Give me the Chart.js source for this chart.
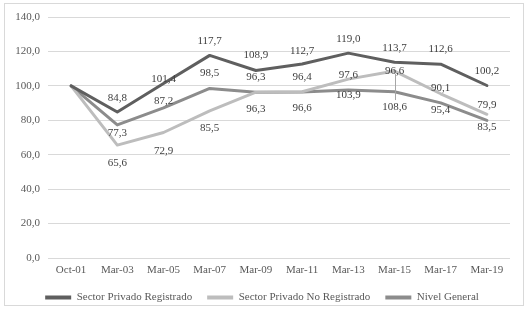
<!DOCTYPE html>
<html>
<head>
<meta charset="utf-8">
<script src="https://cdn.jsdelivr.net/npm/chart.js@4.4.0/dist/chart.umd.min.js"></script>
<style>
  html, body { margin: 0; padding: 0; background: #fff; }
  canvas { display: block; }
</style>
</head>
<body>
<canvas id="chart" width="529" height="319"></canvas>
<script>
const categories = ['Oct-01', 'Mar-03', 'Mar-05', 'Mar-07', 'Mar-09', 'Mar-11', 'Mar-13', 'Mar-15', 'Mar-17', 'Mar-19'];
const privadoRegistrado = [100, 84.8, 101.4, 117.7, 108.9, 112.7, 119.0, 113.7, 112.6, 100.2];
const privadoNoRegistrado = [100, 65.6, 72.9, 85.5, 96.3, 96.6, 103.9, 108.6, 95.4, 83.5];
const nivelGeneral = [100, 77.3, 87.2, 98.5, 96.3, 96.4, 97.6, 96.6, 90.1, 79.9];
const yTicks = [0, 20, 40, 60, 80, 100, 120, 140];

// vertical offset (px) of each value label from its point, null = no label
const dyRegistrado = [null, -14, -4, -14, -15, -13, -14, -14, -15, -14];
const dyNoRegistrado = [null, 18, 19, 17, 17, 16, 16, 36, 16, 13];
const dyGeneral = [null, 8, -7, -15, -15, -15, -15, -21, -15, -15];

const FONT = '"Liberation Serif", "Times New Roman", serif';
const fmt = v => v.toFixed(1).replace('.', ',');

// white background + thin frame like the Excel chart area
const frame = {
    id: 'frame',
    beforeDraw(chart) {
        const ctx = chart.ctx;
        ctx.save();
        ctx.fillStyle = '#fff';
        ctx.fillRect(0, 0, chart.width, chart.height);
        ctx.strokeStyle = '#d9d9d9';
        ctx.lineWidth = 1;
        ctx.strokeRect(4.5, 3.5, 519, 302);
        ctx.restore();
    }
};

// value labels drawn next to each point
const pointLabels = {
    id: 'pointLabels',
    afterDatasetsDraw(chart) {
        const ctx = chart.ctx;
        ctx.save();
        ctx.font = '11px ' + FONT;
        ctx.textAlign = 'center';
        ctx.textBaseline = 'middle';
        chart.data.datasets.forEach((ds, di) => {
            const meta = chart.getDatasetMeta(di);
            meta.data.forEach((pt, i) => {
                const dy = ds.labelOffsets[i];
                if (dy == null) return;
                if (ds.leaders && ds.leaders.includes(i)) {
                    ctx.strokeStyle = '#a6a6a6';
                    ctx.lineWidth = 1;
                    ctx.beginPath();
                    ctx.moveTo(Math.round(pt.x) + 0.5, pt.y + 3);
                    ctx.lineTo(Math.round(pt.x) + 0.5, pt.y + dy - 7);
                    ctx.stroke();
                }
                ctx.fillStyle = '#404040';
                ctx.fillText(fmt(ds.data[i]), pt.x, pt.y + dy);
            });
        });
        ctx.restore();
    }
};

const lineStyle = {
    borderWidth: 3,
    pointRadius: 0,
    tension: 0,
    borderJoinStyle: 'round',
    borderCapStyle: 'round',
    fill: false
};

const config = {
    type: 'line',
    data: {
        labels: categories,
        datasets: [
            {
                ...lineStyle,
                label: 'Sector Privado Registrado',
                data: privadoRegistrado,
                borderColor: '#5f5f5f',
                backgroundColor: '#5f5f5f',
                labelOffsets: dyRegistrado
            },
            {
                ...lineStyle,
                label: 'Sector Privado No Registrado',
                data: privadoNoRegistrado,
                borderColor: '#bdbdbd',
                backgroundColor: '#bdbdbd',
                labelOffsets: dyNoRegistrado,
                leaders: [7]
            },
            {
                ...lineStyle,
                label: 'Nivel General',
                data: nivelGeneral,
                borderColor: '#8c8c8c',
                backgroundColor: '#8c8c8c',
                labelOffsets: dyGeneral
            }
        ]
    },
    options: {
        responsive: false,
        animation: false,
        layout: {
            padding: { left: 14, right: 19, top: 17, bottom: 6 }
        },
        plugins: {
            tooltip: { enabled: false },
            legend: {
                position: 'bottom',
                labels: {
                    boxWidth: 26,
                    boxHeight: 4,
                    padding: 15,
                    color: '#595959',
                    font: { family: FONT, size: 11 },
                    generateLabels: chart => chart.data.datasets.map((ds, i) => ({
                        text: ds.label,
                        fillStyle: ds.borderColor,
                        strokeStyle: ds.borderColor,
                        lineWidth: 0,
                        fontColor: '#595959',
                        datasetIndex: i,
                        hidden: false
                    }))
                }
            }
        },
        scales: {
            x: {
                offset: true,
                afterFit: scale => { scale.height = 19; },
                grid: { display: false, drawTicks: false },
                border: { display: false },
                ticks: {
                    color: '#595959',
                    padding: 7,
                    maxRotation: 0,
                    autoSkip: false,
                    font: { family: FONT, size: 11, lineHeight: 1 }
                }
            },
            y: {
                min: 0,
                max: 140,
                afterFit: scale => { scale.width = 34; },
                afterBuildTicks: scale => { scale.ticks = yTicks.map(v => ({ value: v })); },
                grid: { color: '#d9d9d9', drawTicks: false },
                border: { display: false },
                ticks: {
                    color: '#595959',
                    padding: 8,
                    font: { family: FONT, size: 11 },
                    callback: v => fmt(v)
                }
            }
        }
    },
    plugins: [frame, pointLabels]
};

new Chart(document.getElementById('chart').getContext('2d'), config);
</script>
</body>
</html>
